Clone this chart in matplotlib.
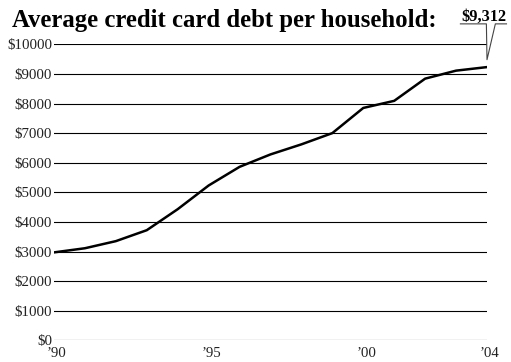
import matplotlib
matplotlib.use('Agg')
import matplotlib.pyplot as plt
import matplotlib.transforms as mtransforms

years = [1990, 1991, 1992, 1993, 1994, 1995, 1996, 1997, 1998, 1999, 2000, 2001, 2002, 2003, 2004]
debt = [2970, 3110, 3350, 3720, 4430, 5230, 5860, 6280, 6620, 7000, 7850, 8090, 8840, 9110, 9230]
y_ticks = [0, 1000, 2000, 3000, 4000, 5000, 6000, 7000, 8000, 9000, 10000]
x_ticks = [1990, 1995, 2000, 2004]
x_labels = ["\u201990", "\u201995", "\u201900", "\u201904"]
title = 'Average credit card debt per household:'
callout = '$9,312'

plt.rcParams['font.family'] = ['Liberation Serif', 'DejaVu Serif']

fig = plt.figure(figsize=(5.11, 3.62), dpi=100)
ax = fig.add_axes([54 / 511, 1 - 340.3 / 362, 433 / 511, (340.3 - 44.3) / 362])

# gridlines drawn as plain horizontal rules
for v in y_ticks:
    ax.axhline(v, color='black', lw=0.8, zorder=1)

ax.plot(years, debt, color='black', lw=1.8, zorder=3, solid_joinstyle='round')

ax.set_xlim(years[0], years[-1])
ax.set_ylim(0, 10000)
ax.set_yticks(y_ticks)
ax.set_yticklabels(['$%d' % v for v in y_ticks])
ax.set_xticks(x_ticks)
ax.set_xticklabels(x_labels)
ax.tick_params(length=0, labelsize=10.7, colors='#222222')
ax.tick_params(axis='y', pad=1.5)
ax.tick_params(axis='x', pad=4.5)
for s in ax.spines.values():
    s.set_visible(False)

# nudge year labels a little to the right like the original
shift = mtransforms.ScaledTranslation(3 / 100, 0, fig.dpi_scale_trans)
for lab in ax.get_xticklabels():
    lab.set_transform(lab.get_transform() + shift)

fig.text(11.5 / 511, 1 - 26.7 / 362, title, fontsize=17.8, fontweight='bold', va='baseline', ha='left')
fig.text(461 / 511, 1 - 20.8 / 362, callout, fontsize=11.8, fontweight='bold', va='baseline', ha='left')

# callout: underline broken by a V pointing down at the last point
tip_x, tip_y = years[-1], debt[-1] + 250
uy = 10690
ax.plot([2003.14, 2003.98, tip_x, 2004.27, 2004.63], [uy, uy, tip_y, uy, uy],
        color='#444444', lw=0.8, clip_on=False, zorder=4)

fig.savefig('out.png', dpi=100)
